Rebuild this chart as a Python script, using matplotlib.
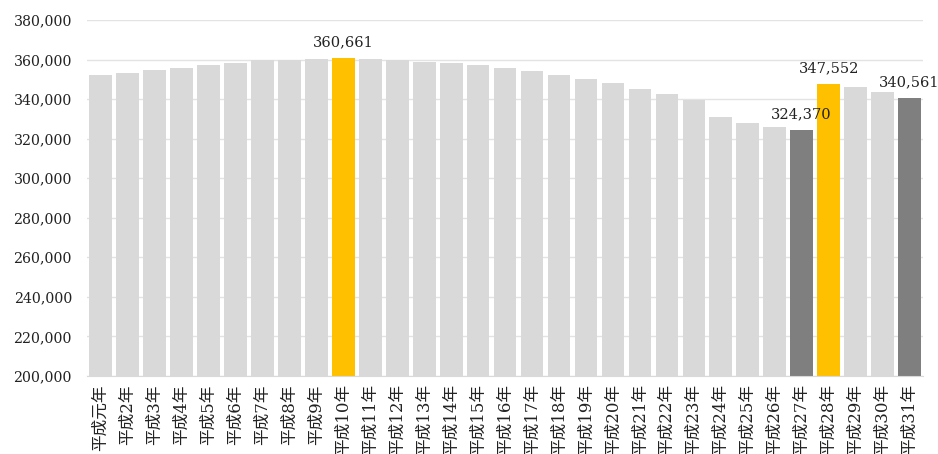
import matplotlib.pyplot as plt
import numpy as np

# 平成元年〜平成31年
years = ["平成元年"] + [f"平成{i}年" for i in range(2, 32)]
values = [352400, 353400, 354600, 355600, 357000, 358000, 359900, 360000,
          360200, 360661, 360500, 360000, 359000, 358000, 357000, 355600,
          354300, 352400, 350100, 347900, 345200, 342800, 339300, 330700,
          328000, 325700, 324370, 347552, 346000, 343500, 340561]

# 強調する年とラベル
highlight_yellow = ["平成10年", "平成28年"]
highlight_dark = ["平成27年", "平成31年"]
labelled = ["平成10年", "平成27年", "平成28年", "平成31年"]

LIGHT = "#d9d9d9"
YELLOW = "#ffc000"
DARK = "#7f7f7f"

colors = []
for y in years:
    if y in highlight_yellow:
        colors.append(YELLOW)
    elif y in highlight_dark:
        colors.append(DARK)
    else:
        colors.append(LIGHT)

fig = plt.figure(figsize=(9.38, 4.54), dpi=100)
ax = fig.add_axes([0.093, 0.172, 0.891, 0.784])

x = np.arange(len(years))
ax.bar(x, values, width=0.84, color=colors, zorder=2)

ax.set_ylim(200000, 380000)
ax.set_xlim(-0.5, len(years) - 0.5)
ax.set_yticks(np.arange(200000, 380001, 20000))
ax.set_yticklabels([f"{v:,}" for v in range(200000, 380001, 20000)],
                   family="DejaVu Serif", fontsize=10.2, color="#222222")
ax.grid(axis="y", color="#e3e3e3", linewidth=1, zorder=0)

ax.set_xticks(x)
ax.set_xticklabels(years, rotation=90, fontsize=12, color="#222222",
                   family=["DejaVu Serif", "Noto Sans CJK JP"])
ax.tick_params(axis="both", length=0)
ax.tick_params(axis="x", pad=6)
ax.tick_params(axis="y", pad=11)

for s in ["top", "right", "left"]:
    ax.spines[s].set_visible(False)
ax.spines["bottom"].set_color("#d9d9d9")

for i, y in enumerate(years):
    if y in labelled:
        ax.text(i, values[i] + 4300, f"{values[i]:,}", ha="center", va="bottom",
                family="DejaVu Serif", fontsize=10.5, color="#222222", zorder=3)

plt.savefig("out.png", dpi=100)
